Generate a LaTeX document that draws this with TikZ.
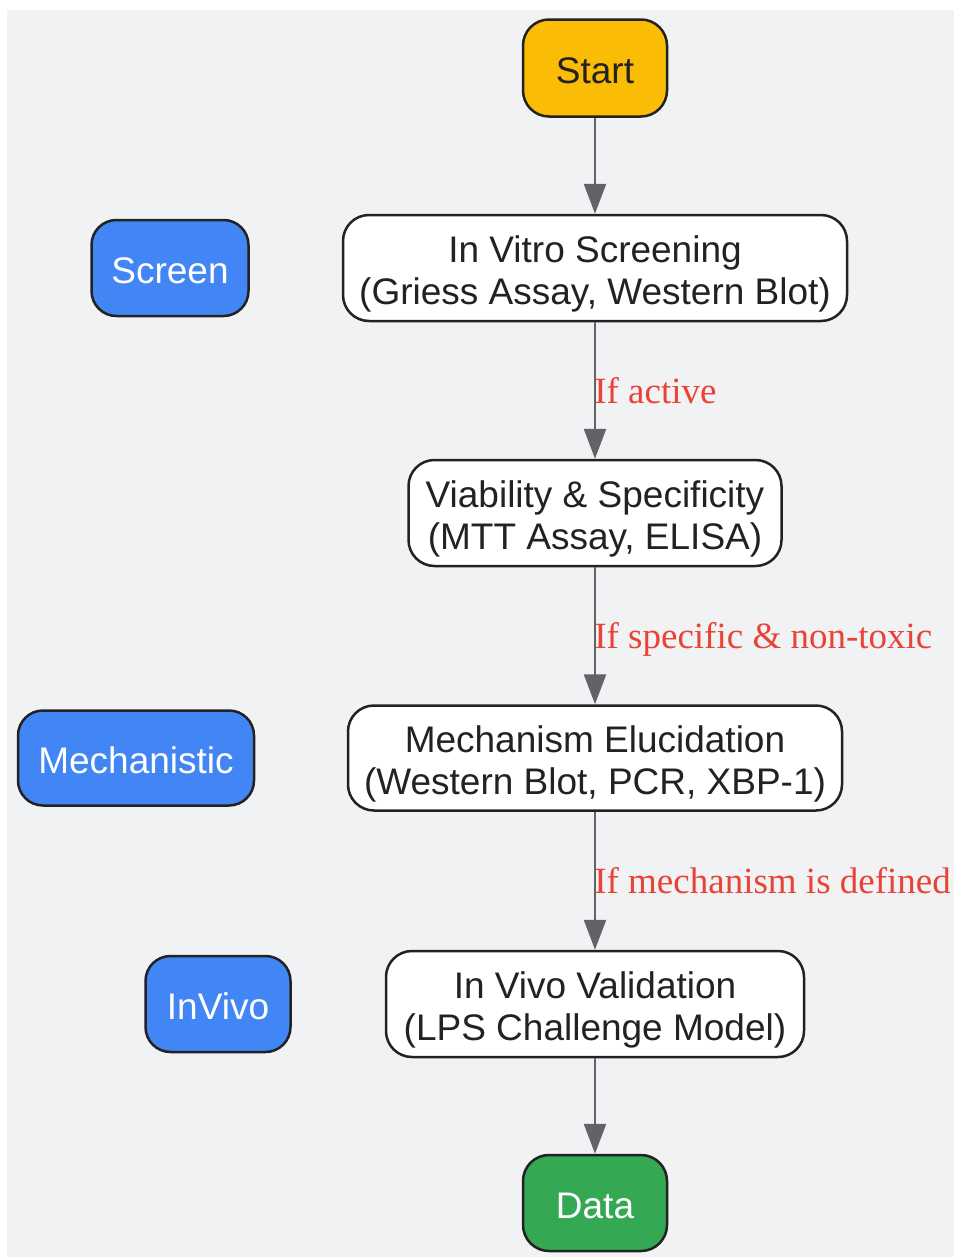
\documentclass[tikz,border=0pt]{standalone}
\usepackage{fontspec}
\setmainfont{Liberation Serif}
\setsansfont{Liberation Sans}
\usepackage{tikz}
\usetikzlibrary{arrows.meta}

\definecolor{bgc}{HTML}{F1F2F4}
\definecolor{startc}{HTML}{FBBC05}
\definecolor{phasec}{HTML}{4285F4}
\definecolor{datac}{HTML}{34A853}
\definecolor{lblc}{HTML}{EA4335}
\definecolor{arrc}{HTML}{616369}
\definecolor{edgec}{HTML}{222222}

\begin{document}
\begin{tikzpicture}[x=0.5pt,y=-0.5pt,
    box/.style={draw=edgec, line width=1.25pt, rounded corners=13pt, fill=white,
      inner sep=0pt, align=center, text=edgec, text height=40pt, text depth=4pt,
      font=\sffamily\fontsize{18.5}{21}\selectfont},
    single/.style={box, text height=15.8pt, text depth=0pt},
    phase/.style={single, fill=phasec, text=white, rounded corners=12.5pt},
    flow/.style={draw=arrc, line width=1.3pt, -{Triangle[length=15pt,width=11pt]}},
    lbl/.style={anchor=west, inner sep=0pt, xshift=-1pt, text=lblc,
      text height=12.6pt, text depth=0pt, font=\fontsize{18.5}{21}\selectfont}]
    % background %
    \fill[bgc] (7,10) rectangle (954,1257);
    \useasboundingbox (0,0) rectangle (954,1258);

    % main steps %
    \node[single, fill=startc, minimum width=72pt, minimum height=48.5pt] (start) at (595,68) {Start};
    \node[box, minimum width=252pt, minimum height=53pt] (vitro) at (595,268)
        {In Vitro Screening\\(Griess Assay, Western Blot)};
    \node[box, minimum width=186.5pt, minimum height=53pt] (viab) at (595,513)
        {Viability \& Specificity\\(MTT Assay, ELISA)};
    \node[box, minimum width=247pt, minimum height=52.5pt] (mech) at (595,758)
        {Mechanism Elucidation\\(Western Blot, PCR, XBP-1)};
    \node[box, minimum width=209pt, minimum height=53pt] (vivo) at (595,1004)
        {In Vivo Validation\\(LPS Challenge Model)};
    \node[single, fill=datac, text=white, minimum width=72pt, minimum height=48pt] (data) at (595,1203) {Data};

    % phase tags %
    \node[phase, minimum width=78.5pt, minimum height=48pt] (screen) at (170,268) {Screen};
    \node[phase, minimum width=118pt, minimum height=47.5pt] (mechtag) at (136,758) {Mechanistic};
    \node[phase, minimum width=72.5pt, minimum height=48pt] (vivotag) at (218,1004) {InVivo};

    % arrows %
    \draw[flow] (start) -- (vitro);
    \draw[flow] (vitro) -- node[lbl] {If active} (viab);
    \draw[flow] (viab) -- node[lbl] {If specific \& non-toxic} (mech);
    \draw[flow] (mech) -- node[lbl] {If mechanism is defined} (vivo);
    \draw[flow] (vivo) -- (data);
\end{tikzpicture}
\end{document}
